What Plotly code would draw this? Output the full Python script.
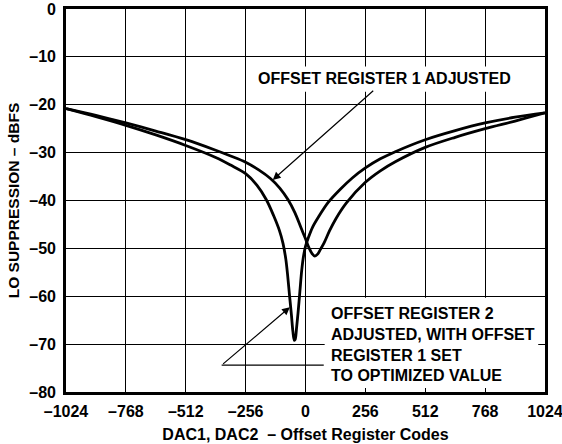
import plotly.graph_objects as go

# LO suppression vs. offset register code
reg1_codes = [-1024, -896, -768, -640, -512, -384, -320, -256, -200, -150, -110, -75, -45, -20,
              0, 15, 28, 40, 52, 64, 80, 103, 130, 175, 256, 320, 384, 512, 640, 768, 896, 1024]
reg1_dbfs = [-20.8, -22.2, -23.8, -25.5, -27.3, -29.5, -30.7, -32.0, -33.6, -35.4, -37.4, -39.8,
             -42.6, -45.6, -48.0, -49.9, -51.1, -51.6, -51.2, -50.2, -48.8, -46.3, -43.8, -40.5,
             -36.2, -33.8, -31.9, -28.9, -26.8, -25.0, -23.4, -21.7]

reg2_codes = [-1024, -896, -768, -640, -512, -384, -320, -256, -208, -168, -136, -112, -96, -84,
              -76, -68, -60, -54, -48, -44, -38, -32, -24, -16, -8, 0, 12, 30, 56, 97, 150,
              200, 256, 320, 384, 512, 640, 768, 896, 1024]
reg2_dbfs = [-20.8, -22.5, -24.3, -26.3, -28.5, -31.0, -32.6, -34.4, -36.8, -39.8, -43.2, -46.2,
             -49.0, -52.3, -55.8, -60.0, -64.0, -67.3, -69.2, -69.0, -66.5, -63.5, -59.0, -54.5,
             -51.5, -49.6, -47.8, -45.6, -43.4, -40.4, -37.6, -35.3, -33.2, -31.3, -29.8, -27.3,
             -25.4, -23.8, -22.6, -21.7]

x_ticks = [-1024, -768, -512, -256, 0, 256, 512, 768, 1024]
x_tick_text = ["–1024", "–768", "–512", "–256", "0", "256", "512", "768", "1024"]
y_ticks = [0, -10, -20, -30, -40, -50, -60, -70, -80]
y_tick_text = ["0", "–10", "–20", "–30", "–40", "–50", "–60", "–70", "–80"]

FONT = "Liberation Sans, Arial, Helvetica, sans-serif"
TXT = dict(family=FONT, size=16, color="black", weight="bold")

fig = go.Figure()
for xs, ys in [(reg1_codes, reg1_dbfs), (reg2_codes, reg2_dbfs)]:
    fig.add_trace(go.Scatter(
        x=xs, y=ys, mode="lines",
        line=dict(color="black", width=2.8, shape="spline", smoothing=0.9),
        showlegend=False, hoverinfo="skip",
    ))

# white boxes behind the text blocks hide the grid
fig.add_shape(type="rect", x0=-230, x1=900, y0=-17.3, y1=-12.0,
              fillcolor="white", line_width=0, layer="between")
fig.add_shape(type="rect", x0=82, x1=995, y0=-79.3, y1=-60.3,
              fillcolor="white", line_width=0, layer="between")

# leader line for the lower label
fig.add_shape(type="line", x0=-358.5, x1=78, y0=-74.4, y1=-74.4,
              line=dict(color="black", width=1.3), layer="above")

fig.add_annotation(
    x=337, y=-14.5, xref="x", yref="y",
    text="OFFSET REGISTER 1 ADJUSTED", showarrow=False, font=TXT,
)
fig.add_annotation(
    x=-140, y=-35.7, ax=296, ay=-16.8, xref="x", yref="y", axref="x", ayref="y",
    text="", showarrow=True, arrowhead=2, arrowsize=1.3, arrowwidth=1.2, arrowcolor="black",
)
fig.add_annotation(
    x=102, y=-70.1, xref="x", yref="y", xanchor="left", yanchor="middle",
    text="OFFSET REGISTER 2<br>ADJUSTED, WITH OFFSET<br>REGISTER 1 SET<br>TO OPTIMIZED VALUE",
    align="left", showarrow=False, font=TXT,
)
fig.add_annotation(
    x=-67, y=-62.3, ax=-358.5, ay=-74.4, xref="x", yref="y", axref="x", ayref="y",
    text="", showarrow=True, arrowhead=2, arrowsize=1.3, arrowwidth=1.2, arrowcolor="black",
)

axis_common = dict(
    showgrid=True, gridcolor="black", gridwidth=1.3,
    showline=True, linecolor="black", linewidth=2.6, mirror=True,
    zeroline=False, automargin=False, ticklabeloverflow="allow",
    tickfont=TXT,
)
fig.update_xaxes(
    range=[-1024, 1024], tickvals=x_ticks, ticktext=x_tick_text,
    ticks="inside", ticklen=4, tickcolor="black", ticklabelstandoff=3,
    title=dict(text="DAC1, DAC2  – Offset Register Codes", standoff=10, font=TXT),
    **axis_common,
)
fig.update_yaxes(
    range=[-80, 0], tickvals=y_ticks, ticktext=y_tick_text,
    ticks="", ticklabelstandoff=4,
    title=dict(text="LO SUPPRESSION – dBFS", standoff=6,
               font=dict(family=FONT, size=15.5, color="black", weight="bold")),
    **axis_common,
)
fig.update_layout(
    width=562, height=444,
    margin=dict(l=66, r=17, t=9, b=52),
    paper_bgcolor="white", plot_bgcolor="white",
    font=dict(family=FONT, color="black"),
)

fig.write_html("out.html")
